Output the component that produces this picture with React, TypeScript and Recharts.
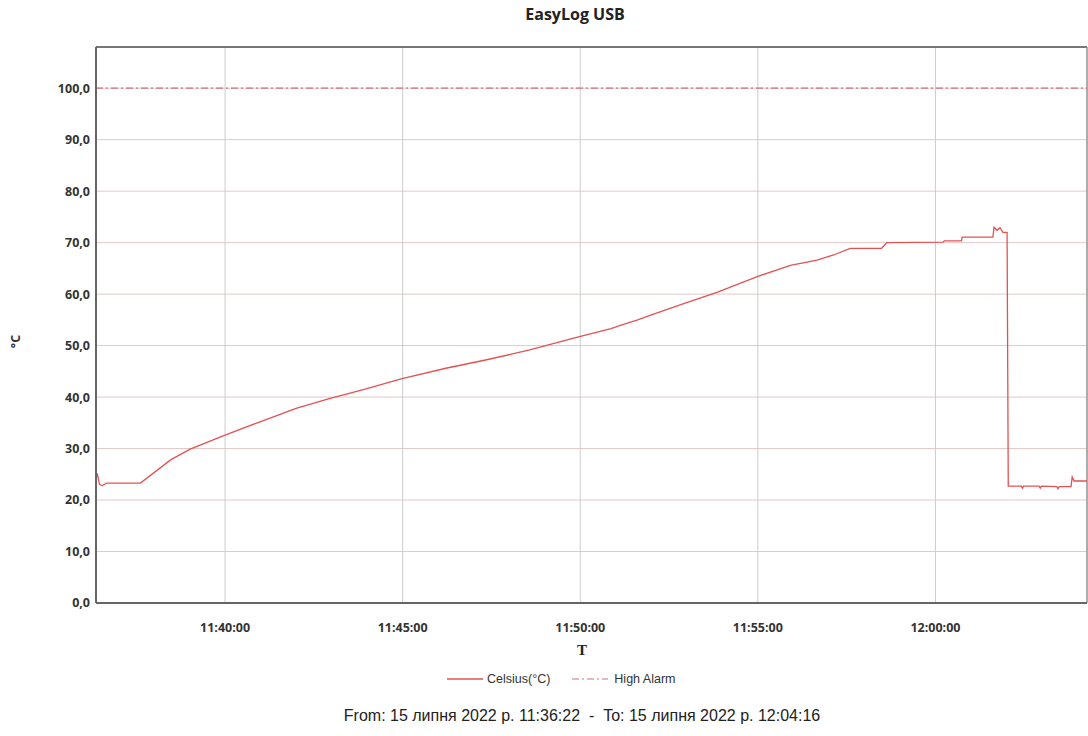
import { LineChart, Line, XAxis, YAxis, CartesianGrid, ReferenceLine } from 'recharts';

// seconds of the day (11:36:22 = 41782)
const times = [
  41782, 41784, 41788, 41793, 41800, 41857, 41908, 41941, 42000, 42059, 42120, 42176, 42232, 42299,
  42373, 42440, 42513, 42597, 42652, 42664, 42697, 42719, 42776, 42832, 42899, 42955, 43000, 43028,
  43056, 43109, 43118, 43213, 43215, 43244, 43245, 43297, 43299, 43304, 43309, 43314, 43321, 43323,
  43345, 43347, 43349, 43375, 43377, 43379, 43405, 43407, 43409, 43429, 43431, 43434, 43456,
];
const celsius = [
  24.0, 25.2, 23.0, 22.8, 23.3, 23.3, 27.8, 29.9, 32.6, 35.2, 37.8, 39.7, 41.4, 43.6,
  45.6, 47.2, 49.1, 51.7, 53.3, 53.8, 55.0, 55.9, 58.2, 60.4, 63.4, 65.6, 66.6, 67.6,
  68.9, 68.9, 70.0, 70.1, 70.35, 70.35, 71.05, 71.05, 73.0, 72.4, 72.9, 72.0, 72.0, 22.7,
  22.7, 22.3, 22.7, 22.7, 22.3, 22.7, 22.6, 22.2, 22.6, 22.6, 24.5, 23.7, 23.7,
];
const highAlarm = 100;

const xTicks = [42000, 42300, 42600, 42900, 43200];
const yTicks = [0, 10, 20, 30, 40, 50, 60, 70, 80, 90, 100];
const yMax = 108;
const tStart = times[0];
const tEnd = times[times.length - 1];

const title = 'EasyLog USB';
const yLabel = '°C';
const xLabel = 'T';
const seriesNames = ['Celsius(°C)', 'High Alarm'];
const footer = 'From: 15 липня 2022 р. 11:36:22  -  To: 15 липня 2022 р. 12:04:16';

const data = times.map((t, i) => ({ t, celsius: celsius[i], alarm: highAlarm }));

const pad = (n: number) => String(n).padStart(2, '0');
const hms = (s: number) =>
  `${pad(Math.floor(s / 3600))}:${pad(Math.floor((s % 3600) / 60))}:${pad(s % 60)}`;

const RED = '#e25252';
const ALARM = '#cf6f80';
const tickStyle = { fontSize: 12.5, fill: '#333', fontWeight: 700, fontFamily: 'Open Sans, sans-serif' };

export default function App() {
  return (
    <div style={{ position: 'absolute', left: 0, top: 0, width: 1088, height: 736, background: '#fff', fontFamily: 'Liberation Sans, Arial, sans-serif' }}>
      <div style={{ position: 'absolute', left: 470, top: 3, width: 210, textAlign: 'center', fontFamily: 'Open Sans, sans-serif', fontWeight: 700, fontSize: 16, color: '#222' }}>
        {title}
      </div>
      <LineChart width={1088} height={736} data={data} margin={{ top: 47, right: 1, left: 0, bottom: 103 }}>
        <CartesianGrid vertical={false} stroke="#e2c8c8" />
        <CartesianGrid horizontal={false} stroke="#cdcdcd" />
        <XAxis
          dataKey="t" type="number" domain={[tStart, tEnd]} ticks={xTicks} tickFormatter={hms}
          height={30} tick={tickStyle} tickLine={false} tickSize={0} tickMargin={20}
          axisLine={{ stroke: '#666', strokeWidth: 2 }}
        />
        <YAxis
          domain={[0, yMax]} ticks={yTicks} width={96} tick={tickStyle}
          tickFormatter={(v) => Number(v).toFixed(1).replace('.', ',')}
          tickLine={false} tickSize={0} tickMargin={6} axisLine={{ stroke: '#666', strokeWidth: 2 }}
        />
        <ReferenceLine y={yMax} stroke="#777" strokeWidth={2} />
        <ReferenceLine x={tEnd} stroke="#999" strokeWidth={1.5} />
        <Line dataKey="alarm" stroke={ALARM} strokeWidth={1.2} strokeDasharray="7 3 2 3" dot={false} isAnimationActive={false} />
        <Line dataKey="celsius" type="linear" stroke={RED} strokeWidth={1.3} dot={false} isAnimationActive={false} />
      </LineChart>
      <div style={{ position: 'absolute', left: 0, top: 333, width: 30, textAlign: 'center', transform: 'rotate(-90deg)', fontFamily: 'Open Sans, sans-serif', fontWeight: 700, fontSize: 12.5, color: '#333' }}>
        {yLabel}
      </div>
      <div style={{ position: 'absolute', left: 562, top: 642, width: 40, textAlign: 'center', fontFamily: 'Liberation Serif, serif', fontWeight: 700, fontSize: 15, color: '#222' }}>
        {xLabel}
      </div>
      <div style={{ position: 'absolute', left: 447, top: 672, display: 'flex', alignItems: 'center', fontSize: 12.5, color: '#333' }}>
        <svg width={36} height={6}><line x1={0} y1={3} x2={36} y2={3} stroke={RED} strokeWidth={1.3} /></svg>
        <span style={{ marginLeft: 4 }}>{seriesNames[0]}</span>
        <svg width={36} height={6} style={{ marginLeft: 22 }}><line x1={0} y1={3} x2={36} y2={3} stroke={ALARM} strokeWidth={1.2} strokeDasharray="7 3 2 3" /></svg>
        <span style={{ marginLeft: 6 }}>{seriesNames[1]}</span>
      </div>
      <div style={{ position: 'absolute', left: 0, top: 707, width: 1164, textAlign: 'center', fontSize: 16, color: '#222', whiteSpace: 'pre' }}>
        {footer}
      </div>
    </div>
  );
}
